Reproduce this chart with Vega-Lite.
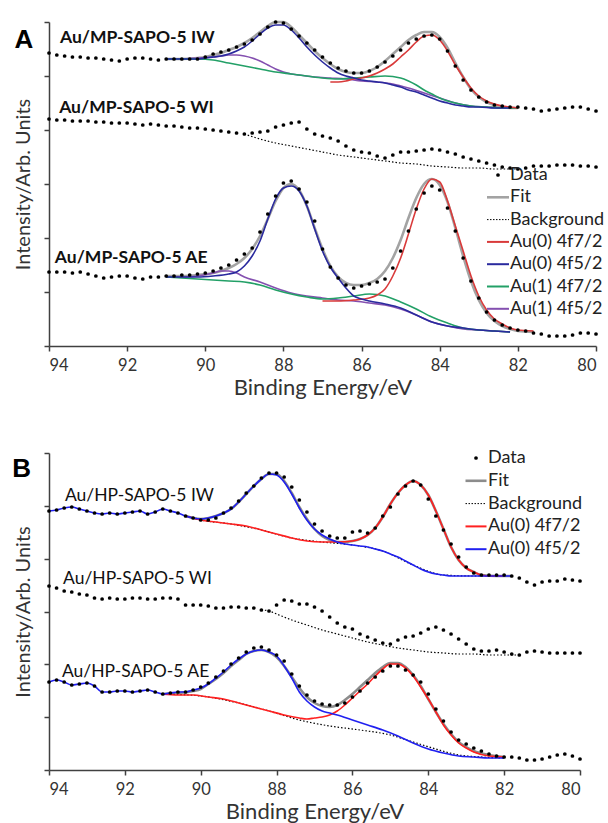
{
"$schema": "https://vega.github.io/schema/vega-lite/v6.json",
"padding": {"left": 12, "top": 16, "right": 0, "bottom": 0},
"spacing": 50,
"config": {"font": "Lato", "view": {"stroke": null},
 "axis": {"grid": false, "domainColor": "#404040", "tickColor": "#404040", "domainWidth": 1.5, "tickWidth": 1.5, "tickSize": 5, "labelColor": "#333", "titleColor": "#333", "labelFont": "Lato", "titleFont": "Lato", "titleFontWeight": "normal", "labelFontSize": 16.5}},
"datasets": {
"Adata": [
{"g":"IW","x":94.0,"y":293},{"g":"IW","x":93.8,"y":291},{"g":"IW","x":93.6,"y":290},{"g":"IW","x":93.4,"y":289},{"g":"IW","x":93.2,"y":289},{"g":"IW","x":93.0,"y":288},{"g":"IW","x":92.8,"y":288},{"g":"IW","x":92.6,"y":287},{"g":"IW","x":92.4,"y":286},{"g":"IW","x":92.2,"y":285},{"g":"IW","x":92.0,"y":287},{"g":"IW","x":91.8,"y":288},{"g":"IW","x":91.6,"y":288},{"g":"IW","x":91.4,"y":287},{"g":"IW","x":91.2,"y":286},{"g":"IW","x":91.0,"y":287},{"g":"IW","x":90.8,"y":287},{"g":"IW","x":90.6,"y":287},{"g":"IW","x":90.4,"y":287},{"g":"IW","x":90.2,"y":287},{"g":"IW","x":90.0,"y":289},{"g":"IW","x":89.8,"y":292},{"g":"IW","x":89.6,"y":294},{"g":"IW","x":89.4,"y":296},{"g":"IW","x":89.2,"y":299},{"g":"IW","x":89.0,"y":302},{"g":"IW","x":88.8,"y":306},{"g":"IW","x":88.6,"y":312},{"g":"IW","x":88.4,"y":319},{"g":"IW","x":88.2,"y":324},{"g":"IW","x":88.0,"y":323},{"g":"IW","x":87.8,"y":317},{"g":"IW","x":87.6,"y":310},{"g":"IW","x":87.4,"y":303},{"g":"IW","x":87.2,"y":296},{"g":"IW","x":87.0,"y":289},{"g":"IW","x":86.8,"y":283},{"g":"IW","x":86.6,"y":278},{"g":"IW","x":86.4,"y":275},{"g":"IW","x":86.2,"y":273},{"g":"IW","x":86.0,"y":273},{"g":"IW","x":85.8,"y":275},{"g":"IW","x":85.6,"y":279},{"g":"IW","x":85.4,"y":284},{"g":"IW","x":85.2,"y":290},{"g":"IW","x":85.0,"y":296},{"g":"IW","x":84.8,"y":303},{"g":"IW","x":84.6,"y":307},{"g":"IW","x":84.4,"y":310},{"g":"IW","x":84.2,"y":311},{"g":"IW","x":84.0,"y":307},{"g":"IW","x":83.8,"y":295},{"g":"IW","x":83.6,"y":280},{"g":"IW","x":83.4,"y":266},{"g":"IW","x":83.2,"y":256},{"g":"IW","x":83.0,"y":249},{"g":"IW","x":82.8,"y":244},{"g":"IW","x":82.6,"y":241},{"g":"IW","x":82.4,"y":240},{"g":"IW","x":82.2,"y":239},{"g":"IW","x":82.0,"y":239},{"g":"IW","x":81.8,"y":238},{"g":"IW","x":81.6,"y":237},{"g":"IW","x":81.4,"y":235},{"g":"IW","x":81.2,"y":236},{"g":"IW","x":81.0,"y":237},{"g":"IW","x":80.8,"y":238},{"g":"IW","x":80.6,"y":239},{"g":"IW","x":80.4,"y":239},{"g":"IW","x":80.2,"y":237},{"g":"IW","x":80.0,"y":235},
{"g":"WI","x":94.0,"y":227},{"g":"WI","x":93.8,"y":226},{"g":"WI","x":93.6,"y":226},{"g":"WI","x":93.4,"y":225},{"g":"WI","x":93.2,"y":225},{"g":"WI","x":93.0,"y":225},{"g":"WI","x":92.8,"y":224},{"g":"WI","x":92.6,"y":224},{"g":"WI","x":92.4,"y":223},{"g":"WI","x":92.2,"y":223},{"g":"WI","x":92.0,"y":223},{"g":"WI","x":91.8,"y":222},{"g":"WI","x":91.6,"y":221},{"g":"WI","x":91.4,"y":222},{"g":"WI","x":91.2,"y":221},{"g":"WI","x":91.0,"y":220},{"g":"WI","x":90.8,"y":220},{"g":"WI","x":90.6,"y":219},{"g":"WI","x":90.4,"y":218},{"g":"WI","x":90.2,"y":218},{"g":"WI","x":90.0,"y":217},{"g":"WI","x":89.8,"y":216},{"g":"WI","x":89.6,"y":215},{"g":"WI","x":89.4,"y":214},{"g":"WI","x":89.2,"y":213},{"g":"WI","x":89.0,"y":212},{"g":"WI","x":88.8,"y":213},{"g":"WI","x":88.6,"y":214},{"g":"WI","x":88.4,"y":215},{"g":"WI","x":88.2,"y":219},{"g":"WI","x":88.0,"y":221},{"g":"WI","x":87.8,"y":223},{"g":"WI","x":87.6,"y":224},{"g":"WI","x":87.4,"y":217},{"g":"WI","x":87.2,"y":212},{"g":"WI","x":87.0,"y":210},{"g":"WI","x":86.8,"y":208},{"g":"WI","x":86.6,"y":205},{"g":"WI","x":86.4,"y":200},{"g":"WI","x":86.2,"y":196},{"g":"WI","x":86.0,"y":194},{"g":"WI","x":85.8,"y":193},{"g":"WI","x":85.6,"y":190},{"g":"WI","x":85.4,"y":188},{"g":"WI","x":85.2,"y":191},{"g":"WI","x":85.0,"y":194},{"g":"WI","x":84.8,"y":194},{"g":"WI","x":84.6,"y":195},{"g":"WI","x":84.4,"y":196},{"g":"WI","x":84.2,"y":197},{"g":"WI","x":84.0,"y":196},{"g":"WI","x":83.8,"y":194},{"g":"WI","x":83.6,"y":192},{"g":"WI","x":83.4,"y":189},{"g":"WI","x":83.2,"y":187},{"g":"WI","x":83.0,"y":185},{"g":"WI","x":82.8,"y":183},{"g":"WI","x":82.6,"y":181},{"g":"WI","x":82.4,"y":179},{"g":"WI","x":82.2,"y":178},{"g":"WI","x":82.0,"y":177},{"g":"WI","x":81.8,"y":178},{"g":"WI","x":81.6,"y":180},{"g":"WI","x":81.4,"y":180},{"g":"WI","x":81.2,"y":180},{"g":"WI","x":81.0,"y":181},{"g":"WI","x":80.8,"y":181},{"g":"WI","x":80.6,"y":181},{"g":"WI","x":80.4,"y":180},{"g":"WI","x":80.2,"y":180},{"g":"WI","x":80.0,"y":179},
{"g":"AE","x":94.0,"y":74},{"g":"AE","x":93.8,"y":74},{"g":"AE","x":93.6,"y":74},{"g":"AE","x":93.4,"y":73},{"g":"AE","x":93.2,"y":74},{"g":"AE","x":93.0,"y":72},{"g":"AE","x":92.8,"y":70},{"g":"AE","x":92.6,"y":68},{"g":"AE","x":92.4,"y":69},{"g":"AE","x":92.2,"y":70},{"g":"AE","x":92.0,"y":70},{"g":"AE","x":91.8,"y":68},{"g":"AE","x":91.6,"y":67},{"g":"AE","x":91.4,"y":69},{"g":"AE","x":91.2,"y":69},{"g":"AE","x":91.0,"y":70},{"g":"AE","x":90.8,"y":70},{"g":"AE","x":90.6,"y":71},{"g":"AE","x":90.4,"y":71},{"g":"AE","x":90.2,"y":72},{"g":"AE","x":90.0,"y":73},{"g":"AE","x":89.8,"y":75},{"g":"AE","x":89.6,"y":78},{"g":"AE","x":89.4,"y":81},{"g":"AE","x":89.2,"y":86},{"g":"AE","x":89.0,"y":92},{"g":"AE","x":88.8,"y":98},{"g":"AE","x":88.6,"y":114},{"g":"AE","x":88.4,"y":132},{"g":"AE","x":88.2,"y":150},{"g":"AE","x":88.0,"y":163},{"g":"AE","x":87.8,"y":165},{"g":"AE","x":87.6,"y":157},{"g":"AE","x":87.4,"y":144},{"g":"AE","x":87.2,"y":125},{"g":"AE","x":87.0,"y":97},{"g":"AE","x":86.8,"y":79},{"g":"AE","x":86.6,"y":68},{"g":"AE","x":86.4,"y":61},{"g":"AE","x":86.2,"y":58},{"g":"AE","x":86.0,"y":60},{"g":"AE","x":85.8,"y":62},{"g":"AE","x":85.6,"y":64},{"g":"AE","x":85.4,"y":67},{"g":"AE","x":85.2,"y":78},{"g":"AE","x":85.0,"y":95},{"g":"AE","x":84.8,"y":115},{"g":"AE","x":84.6,"y":137},{"g":"AE","x":84.4,"y":153},{"g":"AE","x":84.2,"y":160},{"g":"AE","x":84.0,"y":156},{"g":"AE","x":83.8,"y":138},{"g":"AE","x":83.6,"y":115},{"g":"AE","x":83.4,"y":88},{"g":"AE","x":83.2,"y":65},{"g":"AE","x":83.0,"y":48},{"g":"AE","x":82.8,"y":34},{"g":"AE","x":82.6,"y":26},{"g":"AE","x":82.4,"y":21},{"g":"AE","x":82.2,"y":18},{"g":"AE","x":82.0,"y":16},{"g":"AE","x":81.8,"y":15},{"g":"AE","x":81.6,"y":13},{"g":"AE","x":81.4,"y":12},{"g":"AE","x":81.2,"y":10},{"g":"AE","x":81.0,"y":10},{"g":"AE","x":80.8,"y":10},{"g":"AE","x":80.6,"y":11},{"g":"AE","x":80.4,"y":13},{"g":"AE","x":80.2,"y":13},{"g":"AE","x":80.0,"y":12}
],
"Acurve": [
{"g":"IW","k":"Fit","x":91.0,"y":287},{"g":"IW","k":"Fit","x":90.6,"y":287},{"g":"IW","k":"Fit","x":90.2,"y":288},{"g":"IW","k":"Fit","x":90.0,"y":289},{"g":"IW","k":"Fit","x":89.8,"y":291},{"g":"IW","k":"Fit","x":89.6,"y":293},{"g":"IW","k":"Fit","x":89.4,"y":296},{"g":"IW","k":"Fit","x":89.2,"y":299},{"g":"IW","k":"Fit","x":89.0,"y":303},{"g":"IW","k":"Fit","x":88.8,"y":308},{"g":"IW","k":"Fit","x":88.6,"y":314},{"g":"IW","k":"Fit","x":88.4,"y":320},{"g":"IW","k":"Fit","x":88.2,"y":324},{"g":"IW","k":"Fit","x":88.0,"y":324},{"g":"IW","k":"Fit","x":87.8,"y":319},{"g":"IW","k":"Fit","x":87.6,"y":311},{"g":"IW","k":"Fit","x":87.4,"y":303},{"g":"IW","k":"Fit","x":87.2,"y":295},{"g":"IW","k":"Fit","x":87.0,"y":288},{"g":"IW","k":"Fit","x":86.8,"y":282},{"g":"IW","k":"Fit","x":86.6,"y":277},{"g":"IW","k":"Fit","x":86.4,"y":274},{"g":"IW","k":"Fit","x":86.2,"y":273},{"g":"IW","k":"Fit","x":86.0,"y":273},{"g":"IW","k":"Fit","x":85.8,"y":275},{"g":"IW","k":"Fit","x":85.6,"y":279},{"g":"IW","k":"Fit","x":85.4,"y":285},{"g":"IW","k":"Fit","x":85.2,"y":292},{"g":"IW","k":"Fit","x":85.0,"y":299},{"g":"IW","k":"Fit","x":84.8,"y":306},{"g":"IW","k":"Fit","x":84.6,"y":311},{"g":"IW","k":"Fit","x":84.4,"y":314},{"g":"IW","k":"Fit","x":84.2,"y":314},{"g":"IW","k":"Fit","x":84.0,"y":309},{"g":"IW","k":"Fit","x":83.8,"y":298},{"g":"IW","k":"Fit","x":83.6,"y":283},{"g":"IW","k":"Fit","x":83.4,"y":269},{"g":"IW","k":"Fit","x":83.2,"y":257},{"g":"IW","k":"Fit","x":83.0,"y":249},{"g":"IW","k":"Fit","x":82.8,"y":244},{"g":"IW","k":"Fit","x":82.6,"y":241},{"g":"IW","k":"Fit","x":82.4,"y":239},{"g":"IW","k":"Fit","x":82.2,"y":238},{"g":"IW","k":"Fit","x":82.0,"y":238},
{"g":"IW","k":"Au(1) 4f5/2","x":91.0,"y":287},{"g":"IW","k":"Au(1) 4f5/2","x":90.6,"y":287},{"g":"IW","k":"Au(1) 4f5/2","x":90.2,"y":288},{"g":"IW","k":"Au(1) 4f5/2","x":89.8,"y":289},{"g":"IW","k":"Au(1) 4f5/2","x":89.6,"y":290},{"g":"IW","k":"Au(1) 4f5/2","x":89.4,"y":291},{"g":"IW","k":"Au(1) 4f5/2","x":89.2,"y":291},{"g":"IW","k":"Au(1) 4f5/2","x":89.0,"y":290},{"g":"IW","k":"Au(1) 4f5/2","x":88.8,"y":288},{"g":"IW","k":"Au(1) 4f5/2","x":88.6,"y":285},{"g":"IW","k":"Au(1) 4f5/2","x":88.4,"y":281},{"g":"IW","k":"Au(1) 4f5/2","x":88.2,"y":277},{"g":"IW","k":"Au(1) 4f5/2","x":88.0,"y":274},{"g":"IW","k":"Au(1) 4f5/2","x":87.8,"y":272},{"g":"IW","k":"Au(1) 4f5/2","x":87.6,"y":271},{"g":"IW","k":"Au(1) 4f5/2","x":87.2,"y":269},{"g":"IW","k":"Au(1) 4f5/2","x":86.8,"y":268},{"g":"IW","k":"Au(1) 4f5/2","x":86.4,"y":267},{"g":"IW","k":"Au(1) 4f5/2","x":86.0,"y":265},{"g":"IW","k":"Au(1) 4f5/2","x":85.6,"y":264},{"g":"IW","k":"Au(1) 4f5/2","x":85.2,"y":262},{"g":"IW","k":"Au(1) 4f5/2","x":84.8,"y":258},{"g":"IW","k":"Au(1) 4f5/2","x":84.4,"y":253},{"g":"IW","k":"Au(1) 4f5/2","x":84.0,"y":248},{"g":"IW","k":"Au(1) 4f5/2","x":83.6,"y":243},{"g":"IW","k":"Au(1) 4f5/2","x":83.2,"y":240},{"g":"IW","k":"Au(1) 4f5/2","x":82.8,"y":239},{"g":"IW","k":"Au(1) 4f5/2","x":82.4,"y":238},{"g":"IW","k":"Au(1) 4f5/2","x":82.0,"y":238},
{"g":"IW","k":"Au(1) 4f7/2","x":91.0,"y":287},{"g":"IW","k":"Au(1) 4f7/2","x":90.6,"y":287},{"g":"IW","k":"Au(1) 4f7/2","x":90.2,"y":287},{"g":"IW","k":"Au(1) 4f7/2","x":89.8,"y":286},{"g":"IW","k":"Au(1) 4f7/2","x":89.4,"y":283},{"g":"IW","k":"Au(1) 4f7/2","x":89.0,"y":280},{"g":"IW","k":"Au(1) 4f7/2","x":88.6,"y":277},{"g":"IW","k":"Au(1) 4f7/2","x":88.2,"y":274},{"g":"IW","k":"Au(1) 4f7/2","x":87.8,"y":272},{"g":"IW","k":"Au(1) 4f7/2","x":87.4,"y":270},{"g":"IW","k":"Au(1) 4f7/2","x":87.0,"y":268},{"g":"IW","k":"Au(1) 4f7/2","x":86.6,"y":267},{"g":"IW","k":"Au(1) 4f7/2","x":86.2,"y":268},{"g":"IW","k":"Au(1) 4f7/2","x":85.8,"y":269},{"g":"IW","k":"Au(1) 4f7/2","x":85.4,"y":270},{"g":"IW","k":"Au(1) 4f7/2","x":85.0,"y":268},{"g":"IW","k":"Au(1) 4f7/2","x":84.8,"y":265},{"g":"IW","k":"Au(1) 4f7/2","x":84.6,"y":261},{"g":"IW","k":"Au(1) 4f7/2","x":84.4,"y":256},{"g":"IW","k":"Au(1) 4f7/2","x":84.2,"y":252},{"g":"IW","k":"Au(1) 4f7/2","x":84.0,"y":248},{"g":"IW","k":"Au(1) 4f7/2","x":83.6,"y":243},{"g":"IW","k":"Au(1) 4f7/2","x":83.2,"y":240},{"g":"IW","k":"Au(1) 4f7/2","x":82.8,"y":239},{"g":"IW","k":"Au(1) 4f7/2","x":82.4,"y":238},{"g":"IW","k":"Au(1) 4f7/2","x":82.0,"y":238},
{"g":"IW","k":"Au(0) 4f7/2","x":86.8,"y":264},{"g":"IW","k":"Au(0) 4f7/2","x":86.6,"y":264},{"g":"IW","k":"Au(0) 4f7/2","x":86.4,"y":265},{"g":"IW","k":"Au(0) 4f7/2","x":86.2,"y":267},{"g":"IW","k":"Au(0) 4f7/2","x":86.0,"y":268},{"g":"IW","k":"Au(0) 4f7/2","x":85.8,"y":270},{"g":"IW","k":"Au(0) 4f7/2","x":85.6,"y":273},{"g":"IW","k":"Au(0) 4f7/2","x":85.4,"y":277},{"g":"IW","k":"Au(0) 4f7/2","x":85.2,"y":282},{"g":"IW","k":"Au(0) 4f7/2","x":85.0,"y":289},{"g":"IW","k":"Au(0) 4f7/2","x":84.8,"y":296},{"g":"IW","k":"Au(0) 4f7/2","x":84.6,"y":304},{"g":"IW","k":"Au(0) 4f7/2","x":84.4,"y":310},{"g":"IW","k":"Au(0) 4f7/2","x":84.2,"y":311},{"g":"IW","k":"Au(0) 4f7/2","x":84.0,"y":306},{"g":"IW","k":"Au(0) 4f7/2","x":83.8,"y":295},{"g":"IW","k":"Au(0) 4f7/2","x":83.6,"y":281},{"g":"IW","k":"Au(0) 4f7/2","x":83.4,"y":269},{"g":"IW","k":"Au(0) 4f7/2","x":83.2,"y":258},{"g":"IW","k":"Au(0) 4f7/2","x":83.0,"y":250},{"g":"IW","k":"Au(0) 4f7/2","x":82.8,"y":245},{"g":"IW","k":"Au(0) 4f7/2","x":82.6,"y":242},{"g":"IW","k":"Au(0) 4f7/2","x":82.4,"y":240},{"g":"IW","k":"Au(0) 4f7/2","x":82.2,"y":239},{"g":"IW","k":"Au(0) 4f7/2","x":82.0,"y":238},
{"g":"IW","k":"Au(0) 4f5/2","x":91.0,"y":287},{"g":"IW","k":"Au(0) 4f5/2","x":90.6,"y":287},{"g":"IW","k":"Au(0) 4f5/2","x":90.2,"y":287},{"g":"IW","k":"Au(0) 4f5/2","x":90.0,"y":288},{"g":"IW","k":"Au(0) 4f5/2","x":89.8,"y":289},{"g":"IW","k":"Au(0) 4f5/2","x":89.6,"y":290},{"g":"IW","k":"Au(0) 4f5/2","x":89.4,"y":292},{"g":"IW","k":"Au(0) 4f5/2","x":89.2,"y":295},{"g":"IW","k":"Au(0) 4f5/2","x":89.0,"y":299},{"g":"IW","k":"Au(0) 4f5/2","x":88.8,"y":305},{"g":"IW","k":"Au(0) 4f5/2","x":88.6,"y":312},{"g":"IW","k":"Au(0) 4f5/2","x":88.4,"y":318},{"g":"IW","k":"Au(0) 4f5/2","x":88.2,"y":321},{"g":"IW","k":"Au(0) 4f5/2","x":88.0,"y":321},{"g":"IW","k":"Au(0) 4f5/2","x":87.8,"y":316},{"g":"IW","k":"Au(0) 4f5/2","x":87.6,"y":308},{"g":"IW","k":"Au(0) 4f5/2","x":87.4,"y":299},{"g":"IW","k":"Au(0) 4f5/2","x":87.2,"y":291},{"g":"IW","k":"Au(0) 4f5/2","x":87.0,"y":284},{"g":"IW","k":"Au(0) 4f5/2","x":86.8,"y":278},{"g":"IW","k":"Au(0) 4f5/2","x":86.6,"y":273},{"g":"IW","k":"Au(0) 4f5/2","x":86.4,"y":270},{"g":"IW","k":"Au(0) 4f5/2","x":86.2,"y":268},{"g":"IW","k":"Au(0) 4f5/2","x":86.0,"y":266},{"g":"IW","k":"Au(0) 4f5/2","x":85.8,"y":265},{"g":"IW","k":"Au(0) 4f5/2","x":85.6,"y":264},{"g":"IW","k":"Au(0) 4f5/2","x":85.4,"y":263},{"g":"IW","k":"Au(0) 4f5/2","x":85.2,"y":261},{"g":"IW","k":"Au(0) 4f5/2","x":85.0,"y":259},{"g":"IW","k":"Au(0) 4f5/2","x":84.8,"y":256},{"g":"IW","k":"Au(0) 4f5/2","x":84.6,"y":254},{"g":"IW","k":"Au(0) 4f5/2","x":84.4,"y":251},{"g":"IW","k":"Au(0) 4f5/2","x":84.2,"y":248},{"g":"IW","k":"Au(0) 4f5/2","x":84.0,"y":245},{"g":"IW","k":"Au(0) 4f5/2","x":83.8,"y":243},{"g":"IW","k":"Au(0) 4f5/2","x":83.6,"y":241},{"g":"IW","k":"Au(0) 4f5/2","x":83.4,"y":240},{"g":"IW","k":"Au(0) 4f5/2","x":83.2,"y":239},{"g":"IW","k":"Au(0) 4f5/2","x":83.0,"y":239},{"g":"IW","k":"Au(0) 4f5/2","x":82.6,"y":238},{"g":"IW","k":"Au(0) 4f5/2","x":82.2,"y":238},
{"g":"WI","k":"Background","x":89.0,"y":212},{"g":"WI","k":"Background","x":88.6,"y":207},{"g":"WI","k":"Background","x":88.2,"y":203},{"g":"WI","k":"Background","x":87.8,"y":200},{"g":"WI","k":"Background","x":87.4,"y":197},{"g":"WI","k":"Background","x":87.0,"y":194},{"g":"WI","k":"Background","x":86.6,"y":191},{"g":"WI","k":"Background","x":86.2,"y":189},{"g":"WI","k":"Background","x":85.8,"y":187},{"g":"WI","k":"Background","x":85.4,"y":185},{"g":"WI","k":"Background","x":85.0,"y":183},{"g":"WI","k":"Background","x":84.6,"y":182},{"g":"WI","k":"Background","x":84.2,"y":180},{"g":"WI","k":"Background","x":83.8,"y":179},{"g":"WI","k":"Background","x":83.4,"y":178},{"g":"WI","k":"Background","x":83.0,"y":178},{"g":"WI","k":"Background","x":82.6,"y":177},{"g":"WI","k":"Background","x":82.2,"y":177},{"g":"WI","k":"Background","x":82.0,"y":177},
{"g":"AE","k":"Fit","x":91.0,"y":70},{"g":"AE","k":"Fit","x":90.6,"y":70},{"g":"AE","k":"Fit","x":90.2,"y":71},{"g":"AE","k":"Fit","x":89.8,"y":73},{"g":"AE","k":"Fit","x":89.6,"y":75},{"g":"AE","k":"Fit","x":89.4,"y":78},{"g":"AE","k":"Fit","x":89.2,"y":82},{"g":"AE","k":"Fit","x":89.0,"y":88},{"g":"AE","k":"Fit","x":88.8,"y":97},{"g":"AE","k":"Fit","x":88.6,"y":110},{"g":"AE","k":"Fit","x":88.4,"y":127},{"g":"AE","k":"Fit","x":88.2,"y":145},{"g":"AE","k":"Fit","x":88.0,"y":158},{"g":"AE","k":"Fit","x":87.8,"y":162},{"g":"AE","k":"Fit","x":87.6,"y":156},{"g":"AE","k":"Fit","x":87.4,"y":140},{"g":"AE","k":"Fit","x":87.2,"y":118},{"g":"AE","k":"Fit","x":87.0,"y":97},{"g":"AE","k":"Fit","x":86.8,"y":80},{"g":"AE","k":"Fit","x":86.6,"y":69},{"g":"AE","k":"Fit","x":86.4,"y":63},{"g":"AE","k":"Fit","x":86.2,"y":61},{"g":"AE","k":"Fit","x":86.0,"y":61},{"g":"AE","k":"Fit","x":85.8,"y":63},{"g":"AE","k":"Fit","x":85.6,"y":67},{"g":"AE","k":"Fit","x":85.4,"y":75},{"g":"AE","k":"Fit","x":85.2,"y":88},{"g":"AE","k":"Fit","x":85.0,"y":106},{"g":"AE","k":"Fit","x":84.8,"y":128},{"g":"AE","k":"Fit","x":84.6,"y":148},{"g":"AE","k":"Fit","x":84.4,"y":162},{"g":"AE","k":"Fit","x":84.2,"y":167},{"g":"AE","k":"Fit","x":84.0,"y":161},{"g":"AE","k":"Fit","x":83.8,"y":144},{"g":"AE","k":"Fit","x":83.6,"y":118},{"g":"AE","k":"Fit","x":83.4,"y":90},{"g":"AE","k":"Fit","x":83.2,"y":65},{"g":"AE","k":"Fit","x":83.0,"y":46},{"g":"AE","k":"Fit","x":82.8,"y":33},{"g":"AE","k":"Fit","x":82.6,"y":25},{"g":"AE","k":"Fit","x":82.4,"y":20},{"g":"AE","k":"Fit","x":82.2,"y":17},{"g":"AE","k":"Fit","x":82.0,"y":15},{"g":"AE","k":"Fit","x":81.6,"y":14},
{"g":"AE","k":"Au(1) 4f5/2","x":91.0,"y":69},{"g":"AE","k":"Au(1) 4f5/2","x":90.6,"y":69},{"g":"AE","k":"Au(1) 4f5/2","x":90.2,"y":70},{"g":"AE","k":"Au(1) 4f5/2","x":89.8,"y":73},{"g":"AE","k":"Au(1) 4f5/2","x":89.6,"y":75},{"g":"AE","k":"Au(1) 4f5/2","x":89.4,"y":75},{"g":"AE","k":"Au(1) 4f5/2","x":89.2,"y":73},{"g":"AE","k":"Au(1) 4f5/2","x":89.0,"y":69},{"g":"AE","k":"Au(1) 4f5/2","x":88.6,"y":64},{"g":"AE","k":"Au(1) 4f5/2","x":88.2,"y":58},{"g":"AE","k":"Au(1) 4f5/2","x":87.8,"y":53},{"g":"AE","k":"Au(1) 4f5/2","x":87.4,"y":50},{"g":"AE","k":"Au(1) 4f5/2","x":87.0,"y":48},{"g":"AE","k":"Au(1) 4f5/2","x":86.6,"y":46},{"g":"AE","k":"Au(1) 4f5/2","x":86.2,"y":45},{"g":"AE","k":"Au(1) 4f5/2","x":85.8,"y":43},{"g":"AE","k":"Au(1) 4f5/2","x":85.4,"y":41},{"g":"AE","k":"Au(1) 4f5/2","x":85.0,"y":37},{"g":"AE","k":"Au(1) 4f5/2","x":84.6,"y":31},{"g":"AE","k":"Au(1) 4f5/2","x":84.2,"y":24},{"g":"AE","k":"Au(1) 4f5/2","x":83.8,"y":20},{"g":"AE","k":"Au(1) 4f5/2","x":83.4,"y":17},{"g":"AE","k":"Au(1) 4f5/2","x":83.0,"y":16},{"g":"AE","k":"Au(1) 4f5/2","x":82.6,"y":15},{"g":"AE","k":"Au(1) 4f5/2","x":82.2,"y":14},
{"g":"AE","k":"Au(1) 4f7/2","x":91.0,"y":69},{"g":"AE","k":"Au(1) 4f7/2","x":90.6,"y":68},{"g":"AE","k":"Au(1) 4f7/2","x":90.2,"y":67},{"g":"AE","k":"Au(1) 4f7/2","x":89.8,"y":66},{"g":"AE","k":"Au(1) 4f7/2","x":89.4,"y":65},{"g":"AE","k":"Au(1) 4f7/2","x":89.0,"y":64},{"g":"AE","k":"Au(1) 4f7/2","x":88.6,"y":61},{"g":"AE","k":"Au(1) 4f7/2","x":88.2,"y":56},{"g":"AE","k":"Au(1) 4f7/2","x":87.8,"y":52},{"g":"AE","k":"Au(1) 4f7/2","x":87.4,"y":49},{"g":"AE","k":"Au(1) 4f7/2","x":87.0,"y":47},{"g":"AE","k":"Au(1) 4f7/2","x":86.6,"y":48},{"g":"AE","k":"Au(1) 4f7/2","x":86.2,"y":50},{"g":"AE","k":"Au(1) 4f7/2","x":85.8,"y":52},{"g":"AE","k":"Au(1) 4f7/2","x":85.4,"y":50},{"g":"AE","k":"Au(1) 4f7/2","x":85.0,"y":44},{"g":"AE","k":"Au(1) 4f7/2","x":84.6,"y":37},{"g":"AE","k":"Au(1) 4f7/2","x":84.2,"y":29},{"g":"AE","k":"Au(1) 4f7/2","x":83.8,"y":23},{"g":"AE","k":"Au(1) 4f7/2","x":83.4,"y":18},{"g":"AE","k":"Au(1) 4f7/2","x":83.0,"y":16},{"g":"AE","k":"Au(1) 4f7/2","x":82.6,"y":15},{"g":"AE","k":"Au(1) 4f7/2","x":82.2,"y":14},
{"g":"AE","k":"Au(0) 4f7/2","x":87.0,"y":45},{"g":"AE","k":"Au(0) 4f7/2","x":86.6,"y":45},{"g":"AE","k":"Au(0) 4f7/2","x":86.2,"y":46},{"g":"AE","k":"Au(0) 4f7/2","x":85.8,"y":48},{"g":"AE","k":"Au(0) 4f7/2","x":85.6,"y":51},{"g":"AE","k":"Au(0) 4f7/2","x":85.4,"y":57},{"g":"AE","k":"Au(0) 4f7/2","x":85.2,"y":70},{"g":"AE","k":"Au(0) 4f7/2","x":85.0,"y":88},{"g":"AE","k":"Au(0) 4f7/2","x":84.8,"y":112},{"g":"AE","k":"Au(0) 4f7/2","x":84.6,"y":137},{"g":"AE","k":"Au(0) 4f7/2","x":84.4,"y":157},{"g":"AE","k":"Au(0) 4f7/2","x":84.2,"y":167},{"g":"AE","k":"Au(0) 4f7/2","x":84.0,"y":164},{"g":"AE","k":"Au(0) 4f7/2","x":83.8,"y":145},{"g":"AE","k":"Au(0) 4f7/2","x":83.6,"y":120},{"g":"AE","k":"Au(0) 4f7/2","x":83.4,"y":95},{"g":"AE","k":"Au(0) 4f7/2","x":83.2,"y":70},{"g":"AE","k":"Au(0) 4f7/2","x":83.0,"y":50},{"g":"AE","k":"Au(0) 4f7/2","x":82.8,"y":36},{"g":"AE","k":"Au(0) 4f7/2","x":82.6,"y":27},{"g":"AE","k":"Au(0) 4f7/2","x":82.4,"y":22},{"g":"AE","k":"Au(0) 4f7/2","x":82.2,"y":18},{"g":"AE","k":"Au(0) 4f7/2","x":82.0,"y":16},{"g":"AE","k":"Au(0) 4f7/2","x":81.6,"y":15},
{"g":"AE","k":"Au(0) 4f5/2","x":91.0,"y":69},{"g":"AE","k":"Au(0) 4f5/2","x":90.6,"y":69},{"g":"AE","k":"Au(0) 4f5/2","x":90.2,"y":69},{"g":"AE","k":"Au(0) 4f5/2","x":89.8,"y":70},{"g":"AE","k":"Au(0) 4f5/2","x":89.4,"y":72},{"g":"AE","k":"Au(0) 4f5/2","x":89.2,"y":74},{"g":"AE","k":"Au(0) 4f5/2","x":89.0,"y":80},{"g":"AE","k":"Au(0) 4f5/2","x":88.8,"y":90},{"g":"AE","k":"Au(0) 4f5/2","x":88.6,"y":105},{"g":"AE","k":"Au(0) 4f5/2","x":88.4,"y":127},{"g":"AE","k":"Au(0) 4f5/2","x":88.2,"y":147},{"g":"AE","k":"Au(0) 4f5/2","x":88.0,"y":158},{"g":"AE","k":"Au(0) 4f5/2","x":87.8,"y":160},{"g":"AE","k":"Au(0) 4f5/2","x":87.6,"y":155},{"g":"AE","k":"Au(0) 4f5/2","x":87.4,"y":140},{"g":"AE","k":"Au(0) 4f5/2","x":87.2,"y":117},{"g":"AE","k":"Au(0) 4f5/2","x":87.0,"y":95},{"g":"AE","k":"Au(0) 4f5/2","x":86.8,"y":79},{"g":"AE","k":"Au(0) 4f5/2","x":86.6,"y":68},{"g":"AE","k":"Au(0) 4f5/2","x":86.4,"y":58},{"g":"AE","k":"Au(0) 4f5/2","x":86.2,"y":50},{"g":"AE","k":"Au(0) 4f5/2","x":86.0,"y":47},{"g":"AE","k":"Au(0) 4f5/2","x":85.8,"y":45},{"g":"AE","k":"Au(0) 4f5/2","x":85.4,"y":42},{"g":"AE","k":"Au(0) 4f5/2","x":85.0,"y":38},{"g":"AE","k":"Au(0) 4f5/2","x":84.6,"y":31},{"g":"AE","k":"Au(0) 4f5/2","x":84.2,"y":24},{"g":"AE","k":"Au(0) 4f5/2","x":83.8,"y":20},{"g":"AE","k":"Au(0) 4f5/2","x":83.4,"y":18},{"g":"AE","k":"Au(0) 4f5/2","x":83.0,"y":16},{"g":"AE","k":"Au(0) 4f5/2","x":82.6,"y":15},{"g":"AE","k":"Au(0) 4f5/2","x":82.2,"y":14}
],
"Alab": [{"t":"Au/MP-SAPO-5 IW","x":93.72,"y":308},{"t":"Au/MP-SAPO-5 WI","x":93.74,"y":238},{"t":"Au/MP-SAPO-5 AE","x":93.85,"y":88}],
"Bdata": [
{"g":"IW","x":94.0,"y":259},{"g":"IW","x":93.8,"y":260},{"g":"IW","x":93.6,"y":262},{"g":"IW","x":93.4,"y":263},{"g":"IW","x":93.2,"y":261},{"g":"IW","x":93.0,"y":259},{"g":"IW","x":92.8,"y":257},{"g":"IW","x":92.6,"y":256},{"g":"IW","x":92.4,"y":257},{"g":"IW","x":92.2,"y":256},{"g":"IW","x":92.0,"y":257},{"g":"IW","x":91.8,"y":258},{"g":"IW","x":91.6,"y":259},{"g":"IW","x":91.4,"y":256},{"g":"IW","x":91.2,"y":258},{"g":"IW","x":91.0,"y":261},{"g":"IW","x":90.8,"y":259},{"g":"IW","x":90.6,"y":257},{"g":"IW","x":90.4,"y":254},{"g":"IW","x":90.2,"y":252},{"g":"IW","x":90.0,"y":250},{"g":"IW","x":89.8,"y":250},{"g":"IW","x":89.6,"y":252},{"g":"IW","x":89.4,"y":257},{"g":"IW","x":89.2,"y":262},{"g":"IW","x":89.0,"y":269},{"g":"IW","x":88.8,"y":277},{"g":"IW","x":88.6,"y":284},{"g":"IW","x":88.4,"y":292},{"g":"IW","x":88.2,"y":297},{"g":"IW","x":88.0,"y":297},{"g":"IW","x":87.8,"y":293},{"g":"IW","x":87.6,"y":283},{"g":"IW","x":87.4,"y":270},{"g":"IW","x":87.2,"y":258},{"g":"IW","x":87.0,"y":246},{"g":"IW","x":86.8,"y":239},{"g":"IW","x":86.6,"y":234},{"g":"IW","x":86.4,"y":232},{"g":"IW","x":86.2,"y":232},{"g":"IW","x":86.0,"y":238},{"g":"IW","x":85.8,"y":239},{"g":"IW","x":85.6,"y":237},{"g":"IW","x":85.4,"y":242},{"g":"IW","x":85.2,"y":254},{"g":"IW","x":85.0,"y":263},{"g":"IW","x":84.8,"y":276},{"g":"IW","x":84.6,"y":284},{"g":"IW","x":84.4,"y":289},{"g":"IW","x":84.2,"y":285},{"g":"IW","x":84.0,"y":271},{"g":"IW","x":83.8,"y":254},{"g":"IW","x":83.6,"y":240},{"g":"IW","x":83.4,"y":226},{"g":"IW","x":83.2,"y":213},{"g":"IW","x":83.0,"y":203},{"g":"IW","x":82.8,"y":197},{"g":"IW","x":82.6,"y":195},{"g":"IW","x":82.4,"y":195},{"g":"IW","x":82.2,"y":195},{"g":"IW","x":82.0,"y":195},{"g":"IW","x":81.8,"y":194},{"g":"IW","x":81.6,"y":192},{"g":"IW","x":81.4,"y":188},{"g":"IW","x":81.2,"y":185},{"g":"IW","x":81.0,"y":188},{"g":"IW","x":80.8,"y":189},{"g":"IW","x":80.6,"y":189},{"g":"IW","x":80.4,"y":191},{"g":"IW","x":80.2,"y":190},{"g":"IW","x":80.0,"y":189},
{"g":"WI","x":94.0,"y":184},{"g":"WI","x":93.8,"y":182},{"g":"WI","x":93.6,"y":179},{"g":"WI","x":93.4,"y":178},{"g":"WI","x":93.2,"y":176},{"g":"WI","x":93.0,"y":175},{"g":"WI","x":92.8,"y":172},{"g":"WI","x":92.6,"y":171},{"g":"WI","x":92.4,"y":172},{"g":"WI","x":92.2,"y":171},{"g":"WI","x":92.0,"y":171},{"g":"WI","x":91.8,"y":172},{"g":"WI","x":91.6,"y":172},{"g":"WI","x":91.4,"y":171},{"g":"WI","x":91.2,"y":171},{"g":"WI","x":91.0,"y":172},{"g":"WI","x":90.8,"y":172},{"g":"WI","x":90.6,"y":171},{"g":"WI","x":90.4,"y":165},{"g":"WI","x":90.2,"y":165},{"g":"WI","x":90.0,"y":165},{"g":"WI","x":89.8,"y":164},{"g":"WI","x":89.6,"y":162},{"g":"WI","x":89.4,"y":162},{"g":"WI","x":89.2,"y":163},{"g":"WI","x":89.0,"y":163},{"g":"WI","x":88.8,"y":162},{"g":"WI","x":88.6,"y":162},{"g":"WI","x":88.4,"y":160},{"g":"WI","x":88.2,"y":159},{"g":"WI","x":88.0,"y":165},{"g":"WI","x":87.8,"y":170},{"g":"WI","x":87.6,"y":169},{"g":"WI","x":87.4,"y":166},{"g":"WI","x":87.2,"y":166},{"g":"WI","x":87.0,"y":163},{"g":"WI","x":86.8,"y":159},{"g":"WI","x":86.6,"y":153},{"g":"WI","x":86.4,"y":147},{"g":"WI","x":86.2,"y":143},{"g":"WI","x":86.0,"y":141},{"g":"WI","x":85.8,"y":136},{"g":"WI","x":85.6,"y":133},{"g":"WI","x":85.4,"y":130},{"g":"WI","x":85.2,"y":127},{"g":"WI","x":85.0,"y":126},{"g":"WI","x":84.8,"y":130},{"g":"WI","x":84.6,"y":133},{"g":"WI","x":84.4,"y":134},{"g":"WI","x":84.2,"y":137},{"g":"WI","x":84.0,"y":141},{"g":"WI","x":83.8,"y":143},{"g":"WI","x":83.6,"y":140},{"g":"WI","x":83.4,"y":136},{"g":"WI","x":83.2,"y":131},{"g":"WI","x":83.0,"y":126},{"g":"WI","x":82.8,"y":121},{"g":"WI","x":82.6,"y":119},{"g":"WI","x":82.4,"y":119},{"g":"WI","x":82.2,"y":120},{"g":"WI","x":82.0,"y":118},{"g":"WI","x":81.8,"y":116},{"g":"WI","x":81.6,"y":115},{"g":"WI","x":81.4,"y":118},{"g":"WI","x":81.2,"y":119},{"g":"WI","x":81.0,"y":118},{"g":"WI","x":80.8,"y":117},{"g":"WI","x":80.6,"y":117},{"g":"WI","x":80.4,"y":117},{"g":"WI","x":80.2,"y":117},{"g":"WI","x":80.0,"y":117},
{"g":"AE","x":94.0,"y":88},{"g":"AE","x":93.8,"y":90},{"g":"AE","x":93.6,"y":88},{"g":"AE","x":93.4,"y":85},{"g":"AE","x":93.2,"y":86},{"g":"AE","x":93.0,"y":87},{"g":"AE","x":92.8,"y":84},{"g":"AE","x":92.6,"y":78},{"g":"AE","x":92.4,"y":78},{"g":"AE","x":92.2,"y":79},{"g":"AE","x":92.0,"y":79},{"g":"AE","x":91.8,"y":78},{"g":"AE","x":91.6,"y":79},{"g":"AE","x":91.4,"y":80},{"g":"AE","x":91.2,"y":78},{"g":"AE","x":91.0,"y":76},{"g":"AE","x":90.8,"y":77},{"g":"AE","x":90.6,"y":78},{"g":"AE","x":90.4,"y":78},{"g":"AE","x":90.2,"y":80},{"g":"AE","x":90.0,"y":83},{"g":"AE","x":89.8,"y":87},{"g":"AE","x":89.6,"y":93},{"g":"AE","x":89.4,"y":99},{"g":"AE","x":89.2,"y":106},{"g":"AE","x":89.0,"y":112},{"g":"AE","x":88.8,"y":118},{"g":"AE","x":88.6,"y":122},{"g":"AE","x":88.4,"y":123},{"g":"AE","x":88.2,"y":120},{"g":"AE","x":88.0,"y":115},{"g":"AE","x":87.8,"y":109},{"g":"AE","x":87.6,"y":96},{"g":"AE","x":87.4,"y":84},{"g":"AE","x":87.2,"y":75},{"g":"AE","x":87.0,"y":69},{"g":"AE","x":86.8,"y":66},{"g":"AE","x":86.6,"y":65},{"g":"AE","x":86.4,"y":65},{"g":"AE","x":86.2,"y":67},{"g":"AE","x":86.0,"y":73},{"g":"AE","x":85.8,"y":79},{"g":"AE","x":85.6,"y":87},{"g":"AE","x":85.4,"y":93},{"g":"AE","x":85.2,"y":99},{"g":"AE","x":85.0,"y":104},{"g":"AE","x":84.8,"y":104},{"g":"AE","x":84.6,"y":100},{"g":"AE","x":84.4,"y":95},{"g":"AE","x":84.2,"y":88},{"g":"AE","x":84.0,"y":76},{"g":"AE","x":83.8,"y":61},{"g":"AE","x":83.6,"y":49},{"g":"AE","x":83.4,"y":38},{"g":"AE","x":83.2,"y":30},{"g":"AE","x":83.0,"y":26},{"g":"AE","x":82.8,"y":22},{"g":"AE","x":82.6,"y":19},{"g":"AE","x":82.4,"y":16},{"g":"AE","x":82.2,"y":14},{"g":"AE","x":82.0,"y":13},{"g":"AE","x":81.8,"y":13},{"g":"AE","x":81.6,"y":12},{"g":"AE","x":81.4,"y":10},{"g":"AE","x":81.2,"y":10},{"g":"AE","x":81.0,"y":11},{"g":"AE","x":80.8,"y":13},{"g":"AE","x":80.6,"y":15},{"g":"AE","x":80.4,"y":16},{"g":"AE","x":80.2,"y":14},{"g":"AE","x":80.0,"y":11}
],
"Bcurve": [
{"g":"IW","k":"Fit","x":90.4,"y":254},{"g":"IW","k":"Fit","x":90.0,"y":251},{"g":"IW","k":"Fit","x":89.6,"y":254},{"g":"IW","k":"Fit","x":89.2,"y":261},{"g":"IW","k":"Fit","x":88.8,"y":276},{"g":"IW","k":"Fit","x":88.6,"y":284},{"g":"IW","k":"Fit","x":88.4,"y":291},{"g":"IW","k":"Fit","x":88.2,"y":296},{"g":"IW","k":"Fit","x":88.0,"y":296},{"g":"IW","k":"Fit","x":87.8,"y":289},{"g":"IW","k":"Fit","x":87.6,"y":277},{"g":"IW","k":"Fit","x":87.4,"y":263},{"g":"IW","k":"Fit","x":87.2,"y":251},{"g":"IW","k":"Fit","x":87.0,"y":241},{"g":"IW","k":"Fit","x":86.8,"y":234},{"g":"IW","k":"Fit","x":86.6,"y":230},{"g":"IW","k":"Fit","x":86.4,"y":228},{"g":"IW","k":"Fit","x":86.2,"y":228},{"g":"IW","k":"Fit","x":86.0,"y":229},{"g":"IW","k":"Fit","x":85.8,"y":231},{"g":"IW","k":"Fit","x":85.6,"y":235},{"g":"IW","k":"Fit","x":85.4,"y":242},{"g":"IW","k":"Fit","x":85.2,"y":253},{"g":"IW","k":"Fit","x":85.0,"y":266},{"g":"IW","k":"Fit","x":84.8,"y":277},{"g":"IW","k":"Fit","x":84.6,"y":285},{"g":"IW","k":"Fit","x":84.4,"y":289},{"g":"IW","k":"Fit","x":84.2,"y":285},{"g":"IW","k":"Fit","x":84.0,"y":275},{"g":"IW","k":"Fit","x":83.8,"y":259},{"g":"IW","k":"Fit","x":83.6,"y":241},{"g":"IW","k":"Fit","x":83.4,"y":223},{"g":"IW","k":"Fit","x":83.2,"y":210},{"g":"IW","k":"Fit","x":83.0,"y":202},{"g":"IW","k":"Fit","x":82.8,"y":198},{"g":"IW","k":"Fit","x":82.6,"y":195},{"g":"IW","k":"Fit","x":82.2,"y":194},{"g":"IW","k":"Fit","x":81.8,"y":194},
{"g":"IW","k":"Background","x":90.4,"y":254},{"g":"IW","k":"Background","x":90.0,"y":250},{"g":"IW","k":"Background","x":89.2,"y":246},{"g":"IW","k":"Background","x":88.4,"y":240},{"g":"IW","k":"Background","x":87.6,"y":232},{"g":"IW","k":"Background","x":86.8,"y":228},{"g":"IW","k":"Background","x":86.0,"y":225},{"g":"IW","k":"Background","x":85.2,"y":219},{"g":"IW","k":"Background","x":84.4,"y":205},{"g":"IW","k":"Background","x":83.6,"y":195},{"g":"IW","k":"Background","x":82.8,"y":194},{"g":"IW","k":"Background","x":82.0,"y":194},
{"g":"IW","k":"Au(0) 4f7/2","x":90.4,"y":254},{"g":"IW","k":"Au(0) 4f7/2","x":90.2,"y":252},{"g":"IW","k":"Au(0) 4f7/2","x":90.0,"y":250},{"g":"IW","k":"Au(0) 4f7/2","x":89.6,"y":248},{"g":"IW","k":"Au(0) 4f7/2","x":89.2,"y":246},{"g":"IW","k":"Au(0) 4f7/2","x":88.8,"y":244},{"g":"IW","k":"Au(0) 4f7/2","x":88.4,"y":240},{"g":"IW","k":"Au(0) 4f7/2","x":88.0,"y":236},{"g":"IW","k":"Au(0) 4f7/2","x":87.6,"y":232},{"g":"IW","k":"Au(0) 4f7/2","x":87.2,"y":229},{"g":"IW","k":"Au(0) 4f7/2","x":86.8,"y":228},{"g":"IW","k":"Au(0) 4f7/2","x":86.4,"y":228},{"g":"IW","k":"Au(0) 4f7/2","x":86.0,"y":229},{"g":"IW","k":"Au(0) 4f7/2","x":85.8,"y":231},{"g":"IW","k":"Au(0) 4f7/2","x":85.6,"y":235},{"g":"IW","k":"Au(0) 4f7/2","x":85.4,"y":242},{"g":"IW","k":"Au(0) 4f7/2","x":85.2,"y":253},{"g":"IW","k":"Au(0) 4f7/2","x":85.0,"y":266},{"g":"IW","k":"Au(0) 4f7/2","x":84.8,"y":277},{"g":"IW","k":"Au(0) 4f7/2","x":84.6,"y":285},{"g":"IW","k":"Au(0) 4f7/2","x":84.4,"y":289},{"g":"IW","k":"Au(0) 4f7/2","x":84.2,"y":285},{"g":"IW","k":"Au(0) 4f7/2","x":84.0,"y":275},{"g":"IW","k":"Au(0) 4f7/2","x":83.8,"y":259},{"g":"IW","k":"Au(0) 4f7/2","x":83.6,"y":241},{"g":"IW","k":"Au(0) 4f7/2","x":83.4,"y":223},{"g":"IW","k":"Au(0) 4f7/2","x":83.2,"y":210},{"g":"IW","k":"Au(0) 4f7/2","x":83.0,"y":202},{"g":"IW","k":"Au(0) 4f7/2","x":82.8,"y":198},{"g":"IW","k":"Au(0) 4f7/2","x":82.6,"y":195},{"g":"IW","k":"Au(0) 4f7/2","x":82.4,"y":194},{"g":"IW","k":"Au(0) 4f7/2","x":82.0,"y":194},
{"g":"IW","k":"Au(0) 4f5/2","x":94.0,"y":259},{"g":"IW","k":"Au(0) 4f5/2","x":93.8,"y":260},{"g":"IW","k":"Au(0) 4f5/2","x":93.6,"y":262},{"g":"IW","k":"Au(0) 4f5/2","x":93.4,"y":263},{"g":"IW","k":"Au(0) 4f5/2","x":93.2,"y":261},{"g":"IW","k":"Au(0) 4f5/2","x":93.0,"y":259},{"g":"IW","k":"Au(0) 4f5/2","x":92.8,"y":257},{"g":"IW","k":"Au(0) 4f5/2","x":92.6,"y":256},{"g":"IW","k":"Au(0) 4f5/2","x":92.4,"y":257},{"g":"IW","k":"Au(0) 4f5/2","x":92.2,"y":256},{"g":"IW","k":"Au(0) 4f5/2","x":92.0,"y":257},{"g":"IW","k":"Au(0) 4f5/2","x":91.8,"y":258},{"g":"IW","k":"Au(0) 4f5/2","x":91.6,"y":259},{"g":"IW","k":"Au(0) 4f5/2","x":91.4,"y":256},{"g":"IW","k":"Au(0) 4f5/2","x":91.2,"y":258},{"g":"IW","k":"Au(0) 4f5/2","x":91.0,"y":261},{"g":"IW","k":"Au(0) 4f5/2","x":90.8,"y":259},{"g":"IW","k":"Au(0) 4f5/2","x":90.6,"y":257},{"g":"IW","k":"Au(0) 4f5/2","x":90.4,"y":254},{"g":"IW","k":"Au(0) 4f5/2","x":90.2,"y":252},{"g":"IW","k":"Au(0) 4f5/2","x":90.0,"y":251},{"g":"IW","k":"Au(0) 4f5/2","x":89.8,"y":252},{"g":"IW","k":"Au(0) 4f5/2","x":89.6,"y":254},{"g":"IW","k":"Au(0) 4f5/2","x":89.4,"y":257},{"g":"IW","k":"Au(0) 4f5/2","x":89.2,"y":261},{"g":"IW","k":"Au(0) 4f5/2","x":89.0,"y":268},{"g":"IW","k":"Au(0) 4f5/2","x":88.8,"y":276},{"g":"IW","k":"Au(0) 4f5/2","x":88.6,"y":284},{"g":"IW","k":"Au(0) 4f5/2","x":88.4,"y":291},{"g":"IW","k":"Au(0) 4f5/2","x":88.2,"y":296},{"g":"IW","k":"Au(0) 4f5/2","x":88.0,"y":295},{"g":"IW","k":"Au(0) 4f5/2","x":87.8,"y":288},{"g":"IW","k":"Au(0) 4f5/2","x":87.6,"y":276},{"g":"IW","k":"Au(0) 4f5/2","x":87.4,"y":262},{"g":"IW","k":"Au(0) 4f5/2","x":87.2,"y":250},{"g":"IW","k":"Au(0) 4f5/2","x":87.0,"y":241},{"g":"IW","k":"Au(0) 4f5/2","x":86.8,"y":235},{"g":"IW","k":"Au(0) 4f5/2","x":86.6,"y":231},{"g":"IW","k":"Au(0) 4f5/2","x":86.4,"y":228},{"g":"IW","k":"Au(0) 4f5/2","x":86.2,"y":226},{"g":"IW","k":"Au(0) 4f5/2","x":86.0,"y":225},{"g":"IW","k":"Au(0) 4f5/2","x":85.8,"y":224},{"g":"IW","k":"Au(0) 4f5/2","x":85.6,"y":223},{"g":"IW","k":"Au(0) 4f5/2","x":85.4,"y":221},{"g":"IW","k":"Au(0) 4f5/2","x":85.2,"y":219},{"g":"IW","k":"Au(0) 4f5/2","x":85.0,"y":216},{"g":"IW","k":"Au(0) 4f5/2","x":84.8,"y":213},{"g":"IW","k":"Au(0) 4f5/2","x":84.6,"y":209},{"g":"IW","k":"Au(0) 4f5/2","x":84.4,"y":205},{"g":"IW","k":"Au(0) 4f5/2","x":84.2,"y":201},{"g":"IW","k":"Au(0) 4f5/2","x":84.0,"y":198},{"g":"IW","k":"Au(0) 4f5/2","x":83.8,"y":196},{"g":"IW","k":"Au(0) 4f5/2","x":83.6,"y":195},{"g":"IW","k":"Au(0) 4f5/2","x":83.4,"y":194},{"g":"IW","k":"Au(0) 4f5/2","x":83.0,"y":194},{"g":"IW","k":"Au(0) 4f5/2","x":82.6,"y":194},{"g":"IW","k":"Au(0) 4f5/2","x":82.2,"y":194},{"g":"IW","k":"Au(0) 4f5/2","x":81.8,"y":194},
{"g":"WI","k":"Background","x":88.4,"y":160},{"g":"WI","k":"Background","x":88.2,"y":159},{"g":"WI","k":"Background","x":88.0,"y":156},{"g":"WI","k":"Background","x":87.6,"y":150},{"g":"WI","k":"Background","x":87.2,"y":145},{"g":"WI","k":"Background","x":86.8,"y":140},{"g":"WI","k":"Background","x":86.4,"y":136},{"g":"WI","k":"Background","x":86.0,"y":132},{"g":"WI","k":"Background","x":85.6,"y":128},{"g":"WI","k":"Background","x":85.2,"y":125},{"g":"WI","k":"Background","x":84.8,"y":122},{"g":"WI","k":"Background","x":84.4,"y":120},{"g":"WI","k":"Background","x":84.0,"y":118},{"g":"WI","k":"Background","x":83.6,"y":117},{"g":"WI","k":"Background","x":83.2,"y":116},{"g":"WI","k":"Background","x":82.8,"y":116},{"g":"WI","k":"Background","x":82.4,"y":115},{"g":"WI","k":"Background","x":82.0,"y":115},{"g":"WI","k":"Background","x":81.6,"y":115},
{"g":"AE","k":"Fit","x":91.0,"y":76},{"g":"AE","k":"Fit","x":90.6,"y":77},{"g":"AE","k":"Fit","x":90.2,"y":79},{"g":"AE","k":"Fit","x":90.0,"y":81},{"g":"AE","k":"Fit","x":89.8,"y":86},{"g":"AE","k":"Fit","x":89.6,"y":91},{"g":"AE","k":"Fit","x":89.4,"y":97},{"g":"AE","k":"Fit","x":89.2,"y":104},{"g":"AE","k":"Fit","x":89.0,"y":110},{"g":"AE","k":"Fit","x":88.8,"y":116},{"g":"AE","k":"Fit","x":88.6,"y":119},{"g":"AE","k":"Fit","x":88.4,"y":120},{"g":"AE","k":"Fit","x":88.2,"y":118},{"g":"AE","k":"Fit","x":88.0,"y":113},{"g":"AE","k":"Fit","x":87.8,"y":104},{"g":"AE","k":"Fit","x":87.6,"y":93},{"g":"AE","k":"Fit","x":87.4,"y":82},{"g":"AE","k":"Fit","x":87.2,"y":73},{"g":"AE","k":"Fit","x":87.0,"y":67},{"g":"AE","k":"Fit","x":86.8,"y":64},{"g":"AE","k":"Fit","x":86.6,"y":63},{"g":"AE","k":"Fit","x":86.4,"y":65},{"g":"AE","k":"Fit","x":86.2,"y":70},{"g":"AE","k":"Fit","x":86.0,"y":76},{"g":"AE","k":"Fit","x":85.8,"y":83},{"g":"AE","k":"Fit","x":85.6,"y":90},{"g":"AE","k":"Fit","x":85.4,"y":97},{"g":"AE","k":"Fit","x":85.2,"y":103},{"g":"AE","k":"Fit","x":85.0,"y":107},{"g":"AE","k":"Fit","x":84.8,"y":107},{"g":"AE","k":"Fit","x":84.6,"y":103},{"g":"AE","k":"Fit","x":84.4,"y":95},{"g":"AE","k":"Fit","x":84.2,"y":84},{"g":"AE","k":"Fit","x":84.0,"y":71},{"g":"AE","k":"Fit","x":83.8,"y":58},{"g":"AE","k":"Fit","x":83.6,"y":46},{"g":"AE","k":"Fit","x":83.4,"y":36},{"g":"AE","k":"Fit","x":83.2,"y":28},{"g":"AE","k":"Fit","x":83.0,"y":23},{"g":"AE","k":"Fit","x":82.8,"y":19},{"g":"AE","k":"Fit","x":82.4,"y":15},{"g":"AE","k":"Fit","x":82.0,"y":13},
{"g":"AE","k":"Background","x":91.0,"y":76},{"g":"AE","k":"Background","x":90.0,"y":74},{"g":"AE","k":"Background","x":89.0,"y":67},{"g":"AE","k":"Background","x":88.2,"y":59},{"g":"AE","k":"Background","x":87.4,"y":50},{"g":"AE","k":"Background","x":86.6,"y":44},{"g":"AE","k":"Background","x":85.8,"y":40},{"g":"AE","k":"Background","x":85.0,"y":35},{"g":"AE","k":"Background","x":84.4,"y":28},{"g":"AE","k":"Background","x":83.8,"y":21},{"g":"AE","k":"Background","x":83.2,"y":15},{"g":"AE","k":"Background","x":82.6,"y":13},{"g":"AE","k":"Background","x":82.0,"y":12},
{"g":"AE","k":"Au(0) 4f7/2","x":91.0,"y":76},{"g":"AE","k":"Au(0) 4f7/2","x":90.6,"y":75},{"g":"AE","k":"Au(0) 4f7/2","x":90.2,"y":75},{"g":"AE","k":"Au(0) 4f7/2","x":89.8,"y":73},{"g":"AE","k":"Au(0) 4f7/2","x":89.4,"y":71},{"g":"AE","k":"Au(0) 4f7/2","x":89.0,"y":67},{"g":"AE","k":"Au(0) 4f7/2","x":88.6,"y":63},{"g":"AE","k":"Au(0) 4f7/2","x":88.2,"y":59},{"g":"AE","k":"Au(0) 4f7/2","x":87.8,"y":55},{"g":"AE","k":"Au(0) 4f7/2","x":87.4,"y":52},{"g":"AE","k":"Au(0) 4f7/2","x":87.2,"y":51},{"g":"AE","k":"Au(0) 4f7/2","x":87.0,"y":52},{"g":"AE","k":"Au(0) 4f7/2","x":86.8,"y":53},{"g":"AE","k":"Au(0) 4f7/2","x":86.6,"y":55},{"g":"AE","k":"Au(0) 4f7/2","x":86.4,"y":59},{"g":"AE","k":"Au(0) 4f7/2","x":86.2,"y":65},{"g":"AE","k":"Au(0) 4f7/2","x":86.0,"y":72},{"g":"AE","k":"Au(0) 4f7/2","x":85.8,"y":79},{"g":"AE","k":"Au(0) 4f7/2","x":85.6,"y":86},{"g":"AE","k":"Au(0) 4f7/2","x":85.4,"y":94},{"g":"AE","k":"Au(0) 4f7/2","x":85.2,"y":101},{"g":"AE","k":"Au(0) 4f7/2","x":85.0,"y":106},{"g":"AE","k":"Au(0) 4f7/2","x":84.8,"y":106},{"g":"AE","k":"Au(0) 4f7/2","x":84.6,"y":102},{"g":"AE","k":"Au(0) 4f7/2","x":84.4,"y":94},{"g":"AE","k":"Au(0) 4f7/2","x":84.2,"y":83},{"g":"AE","k":"Au(0) 4f7/2","x":84.0,"y":71},{"g":"AE","k":"Au(0) 4f7/2","x":83.8,"y":58},{"g":"AE","k":"Au(0) 4f7/2","x":83.6,"y":45},{"g":"AE","k":"Au(0) 4f7/2","x":83.4,"y":35},{"g":"AE","k":"Au(0) 4f7/2","x":83.2,"y":27},{"g":"AE","k":"Au(0) 4f7/2","x":83.0,"y":22},{"g":"AE","k":"Au(0) 4f7/2","x":82.8,"y":18},{"g":"AE","k":"Au(0) 4f7/2","x":82.4,"y":14},{"g":"AE","k":"Au(0) 4f7/2","x":82.0,"y":13},
{"g":"AE","k":"Au(0) 4f5/2","x":94.0,"y":88},{"g":"AE","k":"Au(0) 4f5/2","x":93.8,"y":90},{"g":"AE","k":"Au(0) 4f5/2","x":93.6,"y":88},{"g":"AE","k":"Au(0) 4f5/2","x":93.4,"y":85},{"g":"AE","k":"Au(0) 4f5/2","x":93.2,"y":86},{"g":"AE","k":"Au(0) 4f5/2","x":93.0,"y":87},{"g":"AE","k":"Au(0) 4f5/2","x":92.8,"y":84},{"g":"AE","k":"Au(0) 4f5/2","x":92.6,"y":78},{"g":"AE","k":"Au(0) 4f5/2","x":92.4,"y":78},{"g":"AE","k":"Au(0) 4f5/2","x":92.2,"y":79},{"g":"AE","k":"Au(0) 4f5/2","x":92.0,"y":79},{"g":"AE","k":"Au(0) 4f5/2","x":91.8,"y":78},{"g":"AE","k":"Au(0) 4f5/2","x":91.6,"y":79},{"g":"AE","k":"Au(0) 4f5/2","x":91.4,"y":80},{"g":"AE","k":"Au(0) 4f5/2","x":91.2,"y":78},{"g":"AE","k":"Au(0) 4f5/2","x":91.0,"y":76},{"g":"AE","k":"Au(0) 4f5/2","x":90.8,"y":77},{"g":"AE","k":"Au(0) 4f5/2","x":90.6,"y":78},{"g":"AE","k":"Au(0) 4f5/2","x":90.4,"y":78},{"g":"AE","k":"Au(0) 4f5/2","x":90.2,"y":80},{"g":"AE","k":"Au(0) 4f5/2","x":90.0,"y":82},{"g":"AE","k":"Au(0) 4f5/2","x":89.8,"y":86},{"g":"AE","k":"Au(0) 4f5/2","x":89.6,"y":92},{"g":"AE","k":"Au(0) 4f5/2","x":89.4,"y":98},{"g":"AE","k":"Au(0) 4f5/2","x":89.2,"y":105},{"g":"AE","k":"Au(0) 4f5/2","x":89.0,"y":111},{"g":"AE","k":"Au(0) 4f5/2","x":88.8,"y":116},{"g":"AE","k":"Au(0) 4f5/2","x":88.6,"y":119},{"g":"AE","k":"Au(0) 4f5/2","x":88.4,"y":120},{"g":"AE","k":"Au(0) 4f5/2","x":88.2,"y":118},{"g":"AE","k":"Au(0) 4f5/2","x":88.0,"y":114},{"g":"AE","k":"Au(0) 4f5/2","x":87.8,"y":104},{"g":"AE","k":"Au(0) 4f5/2","x":87.6,"y":92},{"g":"AE","k":"Au(0) 4f5/2","x":87.4,"y":78},{"g":"AE","k":"Au(0) 4f5/2","x":87.2,"y":69},{"g":"AE","k":"Au(0) 4f5/2","x":87.0,"y":63},{"g":"AE","k":"Au(0) 4f5/2","x":86.8,"y":59},{"g":"AE","k":"Au(0) 4f5/2","x":86.6,"y":57},{"g":"AE","k":"Au(0) 4f5/2","x":86.4,"y":55},{"g":"AE","k":"Au(0) 4f5/2","x":86.0,"y":50},{"g":"AE","k":"Au(0) 4f5/2","x":85.6,"y":45},{"g":"AE","k":"Au(0) 4f5/2","x":85.2,"y":40},{"g":"AE","k":"Au(0) 4f5/2","x":84.8,"y":34},{"g":"AE","k":"Au(0) 4f5/2","x":84.4,"y":27},{"g":"AE","k":"Au(0) 4f5/2","x":84.0,"y":21},{"g":"AE","k":"Au(0) 4f5/2","x":83.6,"y":17},{"g":"AE","k":"Au(0) 4f5/2","x":83.2,"y":14},{"g":"AE","k":"Au(0) 4f5/2","x":82.8,"y":13},{"g":"AE","k":"Au(0) 4f5/2","x":82.4,"y":12},{"g":"AE","k":"Au(0) 4f5/2","x":82.0,"y":12}
],
"Blab": [{"t":"Au/HP-SAPO-5 IW","x":93.58,"y":274},{"t":"Au/HP-SAPO-5 WI","x":93.63,"y":191},{"t":"Au/HP-SAPO-5 AE","x":93.66,"y":98}]
},
"vconcat": [
{
"width": 547, "height": 324,
"encoding": {
 "x": {"field": "x", "type": "quantitative", "scale": {"domain": [80, 94], "reverse": true, "nice": false, "zero": false},
  "axis": {"values": [80,82,84,86,88,90,92,94], "format": "d", "title": "Binding Energy/eV", "titleFontSize": 22, "labelPadding": 6, "titlePadding": 4}},
 "y": {"field": "y", "type": "quantitative", "scale": {"domain": [0, 324], "nice": false, "zero": false},
  "axis": {"values": [0,54,108,162,216,270,324], "labels": false, "title": "Intensity/Arb. Units", "titleFontSize": 20, "titlePadding": 10}}
},
"layer": [
 {"data": {"name": "Acurve"}, "transform": [{"filter": "datum.k === 'Fit'"}],
  "mark": {"type": "line", "strokeWidth": 2.6, "interpolate": "monotone"},
  "encoding": {"detail": {"field": "g"},
   "color": {"field": "k", "type": "nominal",
    "scale": {"domain": ["Data","Fit","Background","Au(0) 4f7/2","Au(0) 4f5/2","Au(1) 4f7/2","Au(1) 4f5/2"], "range": ["#000000","#a3a3a3","#000000","#d93a3a","#2a2a9e","#23a067","#8450b0"]},
    "legend": {"orient": "none", "legendX": 440, "legendY": 144, "title": null, "labelFont": "Lato", "labelFontSize": 18, "labelColor": "#222", "symbolType": "stroke", "symbolSize": 484, "symbolStrokeWidth": 2, "rowPadding": 4.3, "labelOffset": 3,
     "encode": {"symbols": {"update": {
      "shape": {"signal": "datum.value === 'Data' ? 'circle' : 'stroke'"},
      "size": {"signal": "datum.value === 'Data' ? 14 : 484"},
      "fill": {"signal": "datum.value === 'Data' ? '#000' : 'transparent'"},
      "strokeDash": {"signal": "datum.value === 'Background' ? [1.5, 1.5] : []"},
      "strokeWidth": {"signal": "datum.value === 'Fit' ? 2.6 : (datum.value === 'Data' ? 0 : (datum.value === 'Background' ? 1 : 2))"}}}}}}}},
 {"data": {"name": "Acurve"}, "transform": [{"filter": "datum.k === 'Background'"}],
  "mark": {"type": "line", "strokeWidth": 1.2, "strokeDash": [1.5, 2], "interpolate": "monotone"},
  "encoding": {"detail": {"field": "g"}, "color": {"field": "k", "type": "nominal"}}},
 {"data": {"name": "Acurve"}, "transform": [{"filter": "datum.k !== 'Fit' && datum.k !== 'Background'"}],
  "mark": {"type": "line", "strokeWidth": 1.6, "interpolate": "monotone"},
  "encoding": {"detail": {"field": "g"}, "color": {"field": "k", "type": "nominal"}}},
 {"data": {"name": "Adata"},
  "mark": {"type": "point", "filled": true, "size": 14, "opacity": 1},
  "encoding": {"color": {"datum": "Data", "type": "nominal"}}},
 {"data": {"name": "Alab"},
  "mark": {"type": "text", "align": "left", "baseline": "middle", "fontSize": 17.5, "fontWeight": "bold", "font": "Lato", "color": "#111"},
  "encoding": {"text": {"field": "t"}}},
 {"data": {"values": [{"t": "A", "x": 94.64, "y": 306}]},
  "mark": {"type": "text", "align": "center", "baseline": "middle", "fontSize": 26, "fontWeight": "bold", "font": "Liberation Sans", "color": "#000"},
  "encoding": {"text": {"field": "t"}}}
]
},
{
"width": 531, "height": 317,
"encoding": {
 "x": {"field": "x", "type": "quantitative", "scale": {"domain": [80, 94], "reverse": true, "nice": false, "zero": false},
  "axis": {"values": [80,82,84,86,88,90,92,94], "format": "d", "title": "Binding Energy/eV", "titleFontSize": 22, "labelPadding": 6, "titlePadding": 4}},
 "y": {"field": "y", "type": "quantitative", "scale": {"domain": [0, 317], "nice": false, "zero": false},
  "axis": {"values": [0,52.83,105.67,158.5,211.33,264.17,317], "labels": false, "title": "Intensity/Arb. Units", "titleFontSize": 20, "titlePadding": 10}}
},
"layer": [
 {"data": {"name": "Bcurve"}, "transform": [{"filter": "datum.k === 'Fit'"}],
  "mark": {"type": "line", "strokeWidth": 2.6, "interpolate": "monotone"},
  "encoding": {"detail": {"field": "g"},
   "color": {"field": "k", "type": "nominal",
    "scale": {"domain": ["Data","Fit","Background","Au(0) 4f7/2","Au(0) 4f5/2"], "range": ["#000000","#8c8c8c","#000000","#ff2020","#2020f0"]},
    "legend": {"orient": "none", "legendX": 418, "legendY": -4, "title": null, "labelFont": "Lato", "labelFontSize": 18, "labelColor": "#222", "symbolType": "stroke", "symbolSize": 441, "symbolStrokeWidth": 2, "rowPadding": 4.8, "labelOffset": 3,
     "encode": {"symbols": {"update": {
      "shape": {"signal": "datum.value === 'Data' ? 'circle' : 'stroke'"},
      "size": {"signal": "datum.value === 'Data' ? 14 : 441"},
      "fill": {"signal": "datum.value === 'Data' ? '#000' : 'transparent'"},
      "strokeDash": {"signal": "datum.value === 'Background' ? [1.5, 1.5] : []"},
      "strokeWidth": {"signal": "datum.value === 'Fit' ? 2.6 : (datum.value === 'Data' ? 0 : (datum.value === 'Background' ? 1 : 2))"}}}}}}}},
 {"data": {"name": "Bcurve"}, "transform": [{"filter": "datum.k === 'Background'"}],
  "mark": {"type": "line", "strokeWidth": 1.2, "strokeDash": [1.5, 2], "interpolate": "monotone"},
  "encoding": {"detail": {"field": "g"}, "color": {"field": "k", "type": "nominal"}}},
 {"data": {"name": "Bcurve"}, "transform": [{"filter": "datum.k !== 'Fit' && datum.k !== 'Background'"}],
  "mark": {"type": "line", "strokeWidth": 1.6, "interpolate": "monotone"},
  "encoding": {"detail": {"field": "g"}, "color": {"field": "k", "type": "nominal"}}},
 {"data": {"name": "Bdata"},
  "mark": {"type": "point", "filled": true, "size": 14, "opacity": 1},
  "encoding": {"color": {"datum": "Data", "type": "nominal"}}},
 {"data": {"name": "Blab"},
  "mark": {"type": "text", "align": "left", "baseline": "middle", "fontSize": 17.5, "fontWeight": "normal", "font": "Lato", "color": "#111"},
  "encoding": {"text": {"field": "t"}}},
 {"data": {"values": [{"t": "B", "x": 94.72, "y": 301}]},
  "mark": {"type": "text", "align": "center", "baseline": "middle", "fontSize": 26, "fontWeight": "bold", "font": "Liberation Sans", "color": "#000"},
  "encoding": {"text": {"field": "t"}}}
]
}
],
"resolve": {"scale": {"color": "independent"}, "legend": {"color": "independent"}}
}
